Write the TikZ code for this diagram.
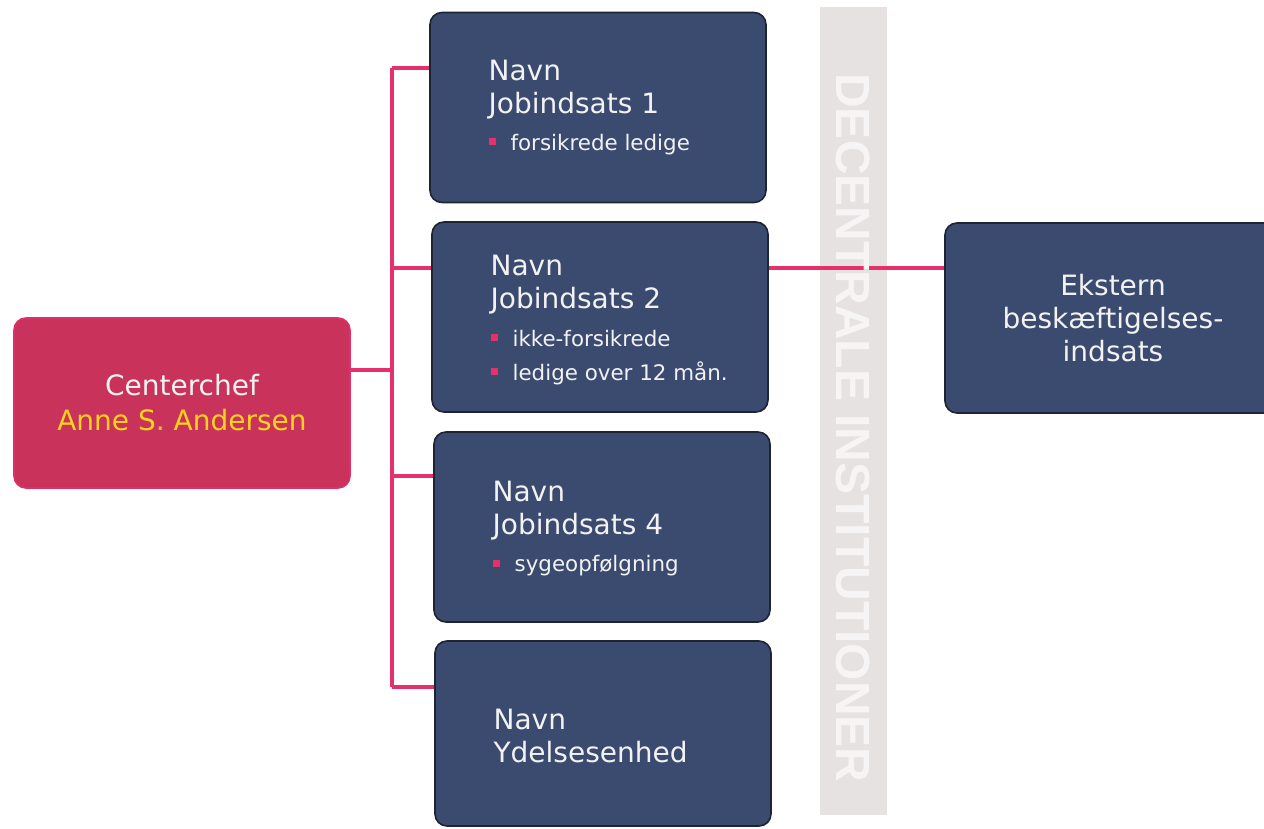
\documentclass[tikz,border=0pt]{standalone}
\usepackage{fontspec}
\setmainfont{DejaVu Sans}
\newfontfamily\bandfont{Liberation Sans}
\usetikzlibrary{positioning}
\definecolor{navy}{HTML}{3B4A6F}
\definecolor{navyline}{HTML}{1E2433}
\definecolor{chefred}{HTML}{C9325B}
\definecolor{chefline}{HTML}{E0306A}
\definecolor{linkpink}{HTML}{E5306B}
\definecolor{nameyellow}{HTML}{FFD21E}
\definecolor{boxtext}{HTML}{F2F2F2}
\definecolor{bandgray}{HTML}{E6E2E2}
\definecolor{bandtext}{HTML}{F6F4F4}
\newcommand{\blt}[1]{{\fontsize{10.7}{16.5}\selectfont\textcolor{linkpink}{\rule[2.5pt]{3.5pt}{3.5pt}}\hspace{7.5pt}#1}}

\begin{document}
\begin{tikzpicture}[x=0.5pt,y=-0.5pt]
    \tikzstyle{unit} = [rectangle, rounded corners=6pt, draw=navyline, line width=0.8pt, fill=navy, minimum width=168pt, minimum height=95pt, inner sep=0pt]
    \tikzstyle{chefbox} = [unit, draw=chefline, fill=chefred, minimum height=85pt]
    \tikzstyle{txt} = [anchor=west, align=left, text=boxtext, font=\fontsize{14}{16.5}\selectfont, inner sep=0pt]
    \tikzstyle{link} = [draw=linkpink, line width=2pt]
    \useasboundingbox (0,0) rectangle (1264,829);
    \fill[bandgray] (820,7) rectangle (887,815);
    % boxes
    \node [chefbox, text=boxtext, align=center, font=\fontsize{14}{17.5}\selectfont] (chef) at (182,403) {Centerchef\\\textcolor{nameyellow}{Anne S. Andersen}};
    \node [unit] (job1) at (598,107.5) {};
    \node [unit] (job2) at (600,317) {};
    \node [unit] (job4) at (602,527) {};
    \node [unit, minimum height=92.5pt] (ydelse) at (603,733.5) {};
    \node [unit, text=boxtext, align=center, font=\fontsize{14}{16.5}\selectfont] (ekstern) at (1113,318) {Ekstern\\beskæftigelses-\\indsats};
    \node [txt] (job1txt) at ([xshift=29.5pt]job1.west) {Navn\\Jobindsats 1\\[2pt]\blt{forsikrede ledige}};
    \node [txt] (job2txt) at ([xshift=29.5pt,yshift=-1.5pt]job2.west) {Navn\\Jobindsats 2\\[2.5pt]\blt{ikke-forsikrede}\\[0.5pt]\blt{ledige over 12 mån.}};
    \node [txt] (job4txt) at ([xshift=29.5pt,yshift=-1pt]job4.west) {Navn\\Jobindsats 4\\[2pt]\blt{sygeopfølgning}};
    \node [txt] (ydelsetxt) at ([xshift=29.5pt,yshift=-1pt]ydelse.west) {Navn\\Ydelsesenhed};
    % connectors
    \coordinate (spinetop) at (392,68);
    \coordinate (spinebot) at (392,687);
    \coordinate (chefout) at ([yshift=16.5pt]chef.east);
    \coordinate (j2in) at ([yshift=24.5pt]job2.west);
    \coordinate (j4in) at ([yshift=25.5pt]job4.west);
    \coordinate (j2out) at ([yshift=24.5pt]job2.east);
    \draw [link] (spinetop) -- (spinebot);
    \draw [link] (chefout) -- (chefout -| spinetop);
    \draw [link] (spinetop) -- (spinetop -| job1.west);
    \draw [link] (j2in -| spinetop) -- (j2in);
    \draw [link] (j4in -| spinetop) -- (j4in);
    \draw [link] (spinebot) -- (spinebot -| ydelse.west);
    \draw [link] (j2out) -- (j2out -| ekstern.west);
    \node [rotate=-90, text=bandtext, font=\bandfont\bfseries\fontsize{24}{24}\selectfont] (band) at (853.5,428) {DECENTRALE INSTITUTIONER};
\end{tikzpicture}
\end{document}
